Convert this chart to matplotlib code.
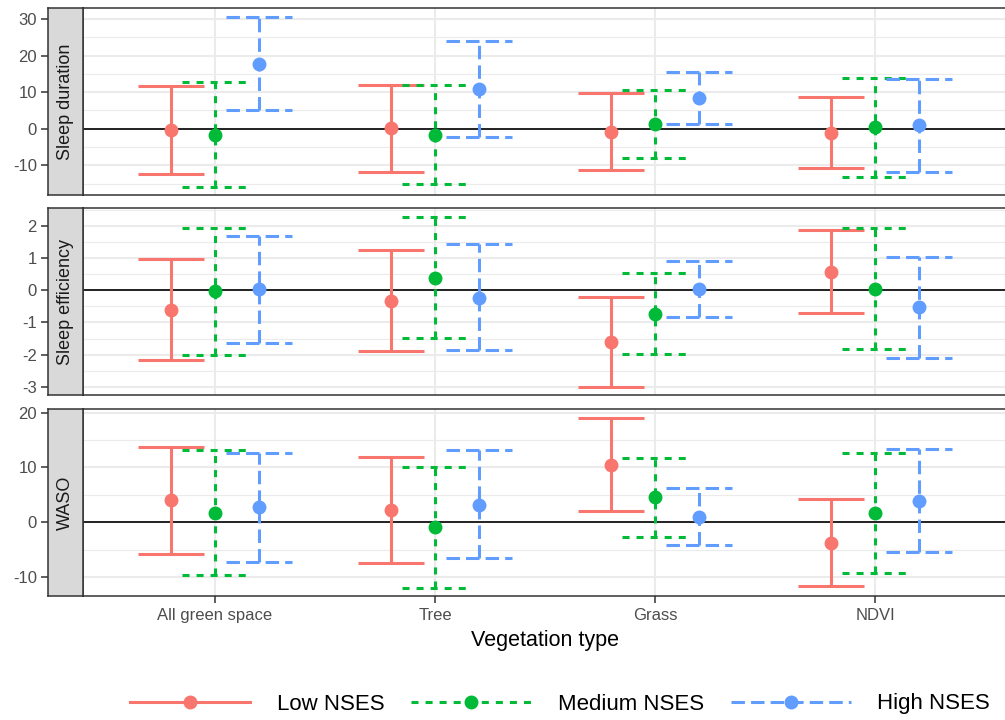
import matplotlib
matplotlib.use("Agg")
import matplotlib.pyplot as plt
from matplotlib.lines import Line2D
import numpy as np

plt.rcParams['font.family'] = ['Liberation Sans', 'DejaVu Sans']
plt.rcParams['axes.unicode_minus'] = False

categories = ["All green space", "Tree", "Grass", "NDVI"]
groups = ["Low NSES", "Medium NSES", "High NSES"]
outcomes = ["Sleep duration", "Sleep efficiency", "WASO"]

# estimates[outcome][group] -> values per category
est = {
    "Sleep duration": {
        "Low NSES":    [-0.45, 0.2, -0.9, -1.1],
        "Medium NSES": [-1.6, -1.8, 1.26, 0.6],
        "High NSES":   [17.8, 10.9, 8.4, 1.1],
    },
    "Sleep efficiency": {
        "Low NSES":    [-0.60, -0.32, -1.61, 0.58],
        "Medium NSES": [-0.03, 0.39, -0.74, 0.05],
        "High NSES":   [0.04, -0.24, 0.05, -0.53],
    },
    "WASO": {
        "Low NSES":    [4.0, 2.2, 10.5, -3.7],
        "Medium NSES": [1.7, -0.9, 4.55, 1.6],
        "High NSES":   [2.75, 3.2, 1.0, 3.95],
    },
}
lower = {
    "Sleep duration": {
        "Low NSES":    [-12.3, -11.7, -11.4, -10.8],
        "Medium NSES": [-15.8, -15.1, -8.0, -13.1],
        "High NSES":   [5.0, -2.2, 1.4, -11.9],
    },
    "Sleep efficiency": {
        "Low NSES":    [-2.18, -1.90, -2.99, -0.70],
        "Medium NSES": [-2.00, -1.47, -1.99, -1.83],
        "High NSES":   [-1.63, -1.87, -0.83, -2.10],
    },
    "WASO": {
        "Low NSES":    [-5.7, -7.5, 2.0, -11.6],
        "Medium NSES": [-9.6, -11.9, -2.7, -9.2],
        "High NSES":   [-7.2, -6.5, -4.2, -5.4],
    },
}
upper = {
    "Sleep duration": {
        "Low NSES":    [11.6, 12.1, 9.8, 8.6],
        "Medium NSES": [12.8, 11.9, 10.5, 14.0],
        "High NSES":   [30.7, 24.1, 15.4, 13.6],
    },
    "Sleep efficiency": {
        "Low NSES":    [0.98, 1.24, -0.22, 1.86],
        "Medium NSES": [1.94, 2.29, 0.53, 1.94],
        "High NSES":   [1.69, 1.43, 0.92, 1.03],
    },
    "WASO": {
        "Low NSES":    [13.8, 11.9, 19.1, 4.2],
        "Medium NSES": [13.2, 10.0, 11.8, 12.6],
        "High NSES":   [12.6, 13.1, 6.2, 13.3],
    },
}
yticks = {
    "Sleep duration": [-10, 0, 10, 20, 30],
    "Sleep efficiency": [-3, -2, -1, 0, 1, 2],
    "WASO": [-10, 0, 10, 20],
}

colors = {"Low NSES": "#F8766D", "Medium NSES": "#00BA38", "High NSES": "#619CFF"}
styles = {"Low NSES": "-", "Medium NSES": (0, (2.3, 2.3)), "High NSES": (0, (4.4, 2.0))}
offsets = {"Low NSES": -0.2, "Medium NSES": 0.0, "High NSES": 0.2}
cap_half = 0.15
LW = 2.2
MS = 9

W, H = 1005, 720
fig = plt.figure(figsize=(W / 100, H / 100), dpi=100)

panel_px = [(8, 195), (208, 395), (409, 596)]
x_left, x_right = 83, 1007
strip_left = 48

def fx(px):
    return px / W

def fy(px):
    return 1 - px / H

x = np.arange(1, len(categories) + 1)

for i, outc in enumerate(outcomes):
    top, bot = panel_px[i]
    ax = fig.add_axes([fx(x_left), fy(bot), fx(x_right - x_left), (bot - top) / H])
    sax = fig.add_axes([fx(strip_left), fy(bot), fx(x_left - strip_left), (bot - top) / H], sharey=ax)

    allv = []
    for g in groups:
        allv += lower[outc][g] + upper[outc][g]
    lo, hi = min(allv), max(allv)
    pad = 0.05 * (hi - lo)
    ax.set_ylim(lo - pad, hi + pad)
    ax.set_xlim(0.4, len(categories) + 0.6)

    # grid
    tk = yticks[outc]
    step = tk[1] - tk[0]
    minors = [t + step / 2 for t in [tk[0] - step] + tk]
    for m in minors:
        ax.axhline(m, color="#EBEBEB", lw=0.8, zorder=0)
    for t in tk:
        ax.axhline(t, color="#EBEBEB", lw=1.5, zorder=0)
    for xi in x:
        ax.axvline(xi, color="#EBEBEB", lw=1.5, zorder=0)
    ax.axhline(0, color="black", lw=1.2, zorder=1)

    for g in groups:
        xs = x + offsets[g]
        c = colors[g]
        ls = styles[g]
        ax.vlines(xs, lower[outc][g], upper[outc][g], colors=c, linestyles=ls, lw=LW, zorder=2)
        ax.hlines(lower[outc][g], xs - cap_half, xs + cap_half, colors=c, linestyles=ls, lw=LW, zorder=2)
        ax.hlines(upper[outc][g], xs - cap_half, xs + cap_half, colors=c, linestyles=ls, lw=LW, zorder=2)
        ax.plot(xs, est[outc][g], "o", color=c, ms=MS, zorder=3, linestyle="none")

    ax.set_yticks(tk)
    ax.tick_params(axis="y", left=False, labelleft=False)
    for s in ax.spines.values():
        s.set_color("#333333")
        s.set_linewidth(1.1)
    ax.spines["right"].set_visible(False)

    if i == len(outcomes) - 1:
        ax.set_xticks(x)
        ax.set_xticklabels(categories, fontsize=12, color="#4D4D4D")
        ax.tick_params(axis="x", length=5, width=1.1, color="#333333", pad=3.5)
        ax.set_xlabel("Vegetation type", fontsize=15.5, labelpad=5)
    else:
        ax.set_xticks([])

    # strip
    sax.set_facecolor("#D9D9D9")
    sax.set_xticks([])
    sax.tick_params(axis="y", length=5, width=1.1, color="#333333", pad=3,
                    labelsize=12, labelcolor="#4D4D4D")
    for s in sax.spines.values():
        s.set_color("#333333")
        s.set_linewidth(1.1)
    sax.text(0.5, 0.5, outc, rotation=90, ha="center", va="center",
             fontsize=13, color="#1A1A1A", transform=sax.transAxes)

handles = [Line2D([0], [0], color=colors[g], linestyle=styles[g], lw=LW,
                  marker="o", ms=MS) for g in groups]
fig.legend(handles, groups, loc="center", bbox_to_anchor=(fx(560), fy(704)),
           ncol=3, frameon=False, fontsize=16, handlelength=5.4,
           handletextpad=1.2, columnspacing=1.2, numpoints=1)

fig.savefig("out.png", dpi=100)
